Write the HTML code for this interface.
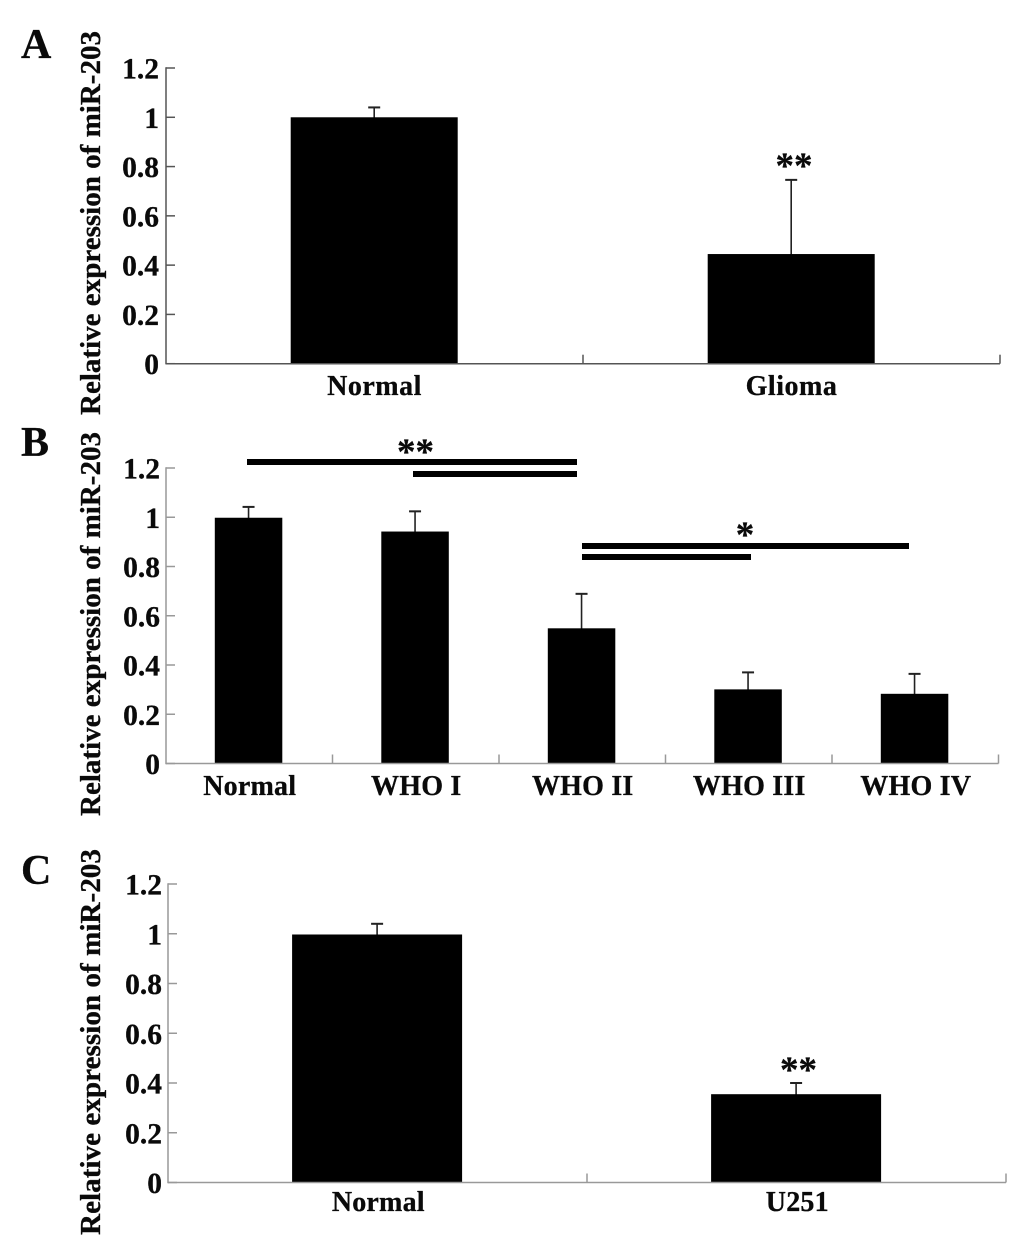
<!DOCTYPE html>
<html lang="en">
<head>
<meta charset="utf-8">
<title>Relative expression of miR-203</title>
<style>
html,body{margin:0;padding:0;background:#fff;width:1033px;height:1245px;overflow:hidden}
svg{display:block;font-family:"Liberation Serif",serif;font-weight:bold;fill:#0a0a0a}
text{stroke:#0a0a0a;stroke-width:0.3px}
</style>
</head>
<body>
<svg id="figure" xmlns="http://www.w3.org/2000/svg" width="1033" height="1245" viewBox="0 0 1033 1245">
  <rect x="0" y="0" width="1033" height="1245" fill="#fff"/>
  <text x="21" y="58" font-size="42">A</text>
  <text x="21" y="456" font-size="42">B</text>
  <text x="21" y="884" font-size="42">C</text>

  <rect x="247" y="459" width="330" height="6" fill="#000"/>
  <rect x="413" y="471" width="164" height="6" fill="#000"/>
  <rect x="582" y="543" width="327" height="6" fill="#000"/>
  <rect x="582" y="554" width="169" height="6" fill="#000"/>
  <text x="794" y="178" font-size="37" text-anchor="middle">**</text>
  <text x="415.5" y="464" font-size="37" text-anchor="middle">**</text>
  <text x="745" y="547" font-size="37" text-anchor="middle">*</text>
  <text x="798.5" y="1082" font-size="37" text-anchor="middle">**</text>
</svg>
<script>
const yTickValues = [0, 0.2, 0.4, 0.6, 0.8, 1, 1.2];
const yTickLabels = ["0", "0.2", "0.4", "0.6", "0.8", "1", "1.2"];
const yAxisTitle = "Relative expression of miR-203";

const panelACategories = ["Normal", "Glioma"];
const panelAValues = [1.0, 0.445];
const panelAErrorTops = [1.04, 0.746];

const panelBCategories = ["Normal", "WHO I", "WHO II", "WHO III", "WHO IV"];
const panelBValues = [0.998, 0.942, 0.549, 0.301, 0.283];
const panelBErrorTops = [1.042, 1.024, 0.689, 0.37, 0.364];

const panelCCategories = ["Normal", "U251"];
const panelCValues = [0.997, 0.355];
const panelCErrorTops = [1.04, 0.4];

const SVG_NS = "http://www.w3.org/2000/svg";
const figure = document.getElementById("figure");

function make(tag, props) {
  const el = document.createElementNS(SVG_NS, tag);
  for (const k in props) el.setAttribute(k, props[k]);
  figure.appendChild(el);
  return el;
}

function drawPanel(p, categories, values, errorTops) {
  const yScale = v => p.y0 - (p.y0 - p.yTop) * v / 1.2;
  const band = (p.x1 - p.x0) / categories.length;
  const xCenter = i => p.x0 + band * (i + 0.5);

  const title = make("text", {
    transform: "translate(" + p.titleX + "," + p.titleY + ") rotate(-90)",
    "font-size": 28,
    textLength: p.titleLen,
    lengthAdjust: "spacingAndGlyphs"
  });
  title.textContent = yAxisTitle;
  
  

  categories.forEach((cat, i) => {
    const top = yScale(values[i]);
    const cx = xCenter(i) + p.barOffset;

    const stem = make("line", {
      x1: cx, x2: cx, y1: yScale(errorTops[i]), y2: top + 1,
      stroke: "#222", "stroke-width": 1.6
    });
    
    

    const cap = make("line", {
      x1: cx - 6, x2: cx + 6, y1: yScale(errorTops[i]), y2: yScale(errorTops[i]),
      stroke: "#222", "stroke-width": 2
    });
    
    

    const bar = make("rect", {
      x: cx - p.barW / 2, y: top, width: p.barW, height: p.y0 - top, fill: "#000"
    });
    
    

    const label = make("text", {
      x: xCenter(i) + p.labelOffset, y: p.labelY, "font-size": 28,
      "text-anchor": "middle", "letter-spacing": p.labelSpacing
    });
    label.textContent = cat;
    
    

    const tx = p.x0 + band * (i + 1);
    const xTick = make("line", {
      x1: tx, x2: tx, y1: p.y0, y2: p.y0 - 9, stroke: p.axisColor, "stroke-width": 1.5
    });
    
    
  });

  yTickValues.forEach((v, i) => {
    const y = yScale(v);
    const tick = make("line", {
      x1: p.x0, x2: p.x0 + 9, y1: y, y2: y, stroke: p.axisColor, "stroke-width": 1.5
    });
    
    

    const tl = make("text", {
      x: p.x0 - p.tickGap, y: y + 10.5, "font-size": 29.5, "text-anchor": "end"
    });
    tl.textContent = yTickLabels[i];
    
    
  });

  const yAxis = make("line", {
    x1: p.x0, x2: p.x0, y1: p.yTop - 0.7, y2: p.y0 + 0.7, stroke: p.axisColor, "stroke-width": 1.5
  });
  
  

  const xAxis = make("line", {
    x1: p.x0, x2: p.x1, y1: p.y0, y2: p.y0, stroke: p.axisColor, "stroke-width": 1.5
  });
  
  
}

drawPanel({
  x0: 166, x1: 1000, y0: 363.7, yTop: 68, barW: 167, barOffset: -0.3, labelOffset: 0, labelY: 395, tickGap: 7,
  labelSpacing: 0.5, axisColor: "#555", titleX: 100, titleY: 415, titleLen: 384
}, panelACategories, panelAValues, panelAErrorTops);

drawPanel({
  x0: 166, x1: 998.5, y0: 763.5, yTop: 468, barW: 67.5, barOffset: -0.7, labelOffset: 0.5, labelY: 795, tickGap: 6,
  labelSpacing: 0.2, axisColor: "#999", titleX: 100, titleY: 816, titleLen: 384
}, panelBCategories, panelBValues, panelBErrorTops);

drawPanel({
  x0: 168, x1: 1006, y0: 1182.5, yTop: 884, barW: 170, barOffset: -0.4, labelOffset: 0.8, labelY: 1211, tickGap: 6,
  labelSpacing: 0.2, axisColor: "#999", titleX: 100, titleY: 1235, titleLen: 386
}, panelCCategories, panelCValues, panelCErrorTops);
</script>
</body>
</html>
